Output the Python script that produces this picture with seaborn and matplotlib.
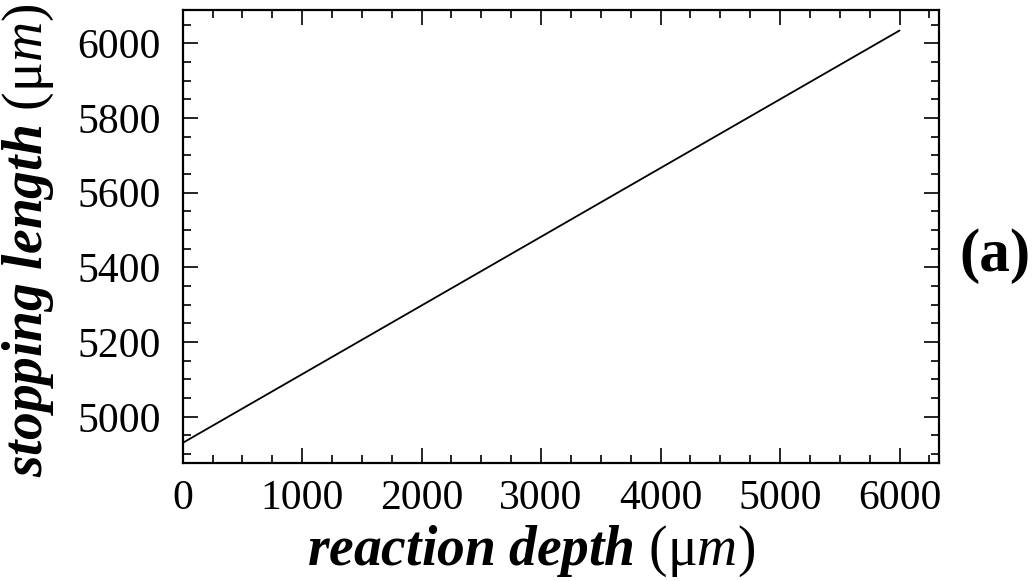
"""Stopping length vs reaction depth, panel (a)."""

import matplotlib
matplotlib.use("Agg")
import matplotlib.pyplot as plt
from matplotlib.ticker import MultipleLocator
import seaborn as sns

# values
reaction_depth = [0, 1000, 2000, 3000, 4000, 5000, 6000]
stopping_length = [4930, 5114, 5298, 5482, 5666, 5850, 6034]
x_ticks = [0, 1000, 2000, 3000, 4000, 5000, 6000]
y_ticks = [5000, 5200, 5400, 5600, 5800, 6000]

sns.set_style("ticks")
plt.rcParams["font.family"] = ["Liberation Serif", "DejaVu Serif"]
plt.rcParams["mathtext.fontset"] = "custom"
plt.rcParams["mathtext.rm"] = "Liberation Serif"
plt.rcParams["mathtext.it"] = "Liberation Serif:italic"
plt.rcParams["mathtext.bf"] = "Liberation Serif:bold:italic"
plt.rcParams["text.color"] = "black"
plt.rcParams["axes.labelcolor"] = "black"

fig = plt.figure(figsize=(10.35, 5.81), dpi=100)
ax = fig.add_axes([0.1765, 0.2036, 0.7307, 0.7792])

sns.lineplot(x=reaction_depth, y=stopping_length, ax=ax, color="black", linewidth=1.3)

ax.set_xlim(0, 6330)
ax.set_ylim(4877, 6089)
ax.set_xticks(x_ticks)
ax.set_yticks(y_ticks)
ax.xaxis.set_minor_locator(MultipleLocator(250))
ax.yaxis.set_minor_locator(MultipleLocator(50))
ax.tick_params(which="both", direction="in", top=True, right=True, width=1.2,
               labelsize=30, colors="black")
ax.tick_params(which="major", length=11)
ax.tick_params(which="minor", length=6)
ax.tick_params(axis="x", pad=12)
ax.tick_params(axis="y", pad=16)
for s in ax.spines.values():
    s.set_linewidth(1.6)
    s.set_color("black")

ax.set_xlabel(r"$\mathbf{reaction\ depth}$ (μ$\mathit{m}$)", fontsize=40)
ax.set_ylabel(r"$\mathbf{stopping\ length}$ (μ$\mathit{m}$)", fontsize=40)
ax.xaxis.label.set_va("baseline")
ax.xaxis.set_label_coords(0.460, -0.226)
ax.yaxis.label.set_va("center")
ax.yaxis.set_label_coords(-0.204, 0.49)
fig.text(0.961, 0.559, "(a)", fontsize=44, fontweight="bold", ha="center", va="center")

fig.savefig("out.png", dpi=100)
